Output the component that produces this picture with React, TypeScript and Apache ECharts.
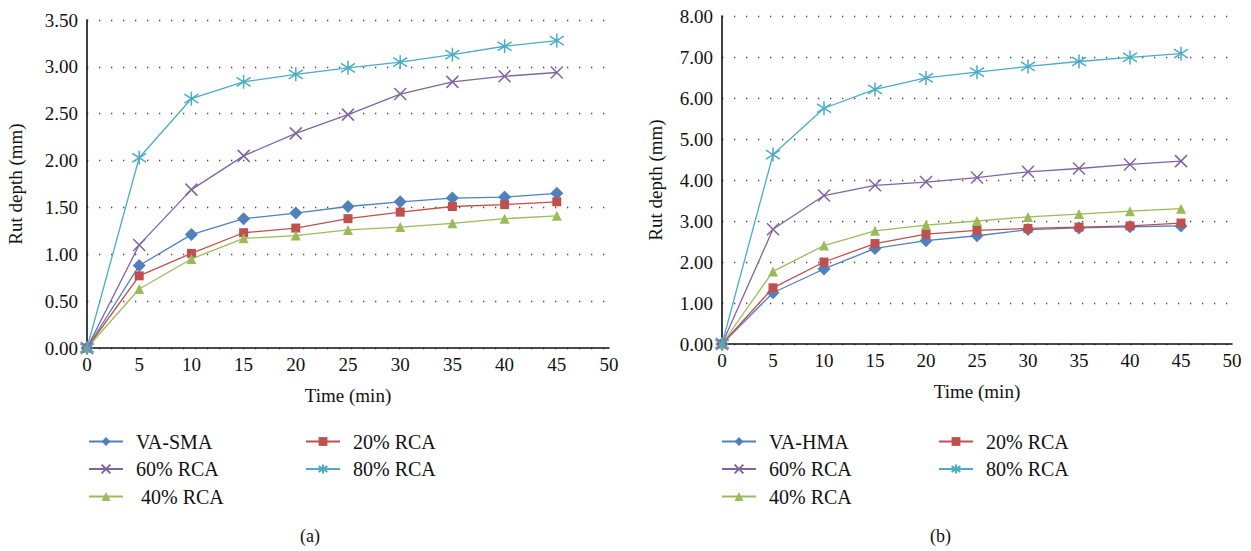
import React, { useEffect, useRef } from "react";
import * as echarts from "echarts";

const times = [0, 5, 10, 15, 20, 25, 30, 35, 40, 45];

// Chart (a)
const leftVA = [0, 0.88, 1.21, 1.38, 1.44, 1.51, 1.56, 1.6, 1.61, 1.65];
const left20 = [0, 0.77, 1.01, 1.23, 1.28, 1.38, 1.45, 1.51, 1.53, 1.56];
const left40 = [0, 0.63, 0.95, 1.17, 1.2, 1.26, 1.29, 1.33, 1.38, 1.41];
const left60 = [0, 1.1, 1.69, 2.05, 2.29, 2.49, 2.71, 2.84, 2.9, 2.94];
const left80 = [0, 2.03, 2.66, 2.84, 2.92, 2.99, 3.05, 3.13, 3.22, 3.28];

// Chart (b)
const rightVA = [0, 1.25, 1.83, 2.33, 2.52, 2.64, 2.79, 2.83, 2.86, 2.88];
const right20 = [0, 1.37, 2.0, 2.45, 2.68, 2.77, 2.82, 2.85, 2.88, 2.95];
const right40 = [0, 1.77, 2.4, 2.76, 2.9, 3.0, 3.1, 3.17, 3.24, 3.3];
const right60 = [0, 2.8, 3.62, 3.87, 3.95, 4.06, 4.2, 4.28, 4.38, 4.46];
const right80 = [0, 4.62, 5.75, 6.21, 6.49, 6.63, 6.77, 6.89, 6.99, 7.08];

const leftNames = ["VA-SMA", "20% RCA", " 40% RCA", "60% RCA", "80% RCA"];
const rightNames = ["VA-HMA", "20% RCA", "40% RCA", "60% RCA", "80% RCA"];
const panelLabels = ["(a)", "(b)"];

const COLORS = ["#4F81BD", "#C0504D", "#9BBB59", "#8064A2", "#4BACC6"];
const SYMBOLS = [
  "diamond",
  "rect",
  "triangle",
  "path://M0,0L10,10M0,10L10,0",
  "path://M5,0L5,10M0.8,1.8L9.2,8.2M9.2,1.8L0.8,8.2",
];
const SIZES = [13, 9, 10, 12, 14];
const FONT = "'Liberation Serif', 'DejaVu Serif', serif";

function pairs(ys: number[]) {
  return times.map((t, i) => [t, ys[i]]);
}

function makeSeries(names: string[], data: number[][], axisIndex: number) {
  return names.map((name, i) => ({
    type: "line",
    name,
    xAxisIndex: axisIndex,
    yAxisIndex: axisIndex,
    data: pairs(data[i]),
    symbol: SYMBOLS[i],
    symbolSize: SIZES[i],
    lineStyle: { color: COLORS[i], width: 1.3 },
    itemStyle: {
      color: i >= 3 ? "transparent" : COLORS[i],
      borderColor: COLORS[i],
      borderWidth: i >= 3 ? 1.5 : 0,
    },
    z: 2 + i,
  }));
}

function xAxis(gridIndex: number) {
  return {
    type: "value",
    gridIndex,
    min: 0,
    max: 50,
    interval: 5,
    name: "Time (min)",
    nameLocation: "middle",
    nameGap: 38,
    nameTextStyle: { fontFamily: FONT, fontSize: 19, color: "#111" },
    axisLine: { show: true, onZero: false, lineStyle: { color: "#111", width: 1.6 } },
    axisTick: { show: false },
    splitLine: { show: false },
    axisLabel: { fontFamily: FONT, fontSize: 19, color: "#111", margin: 7 },
  };
}

function yAxis(gridIndex: number, max: number, interval: number, gap: number) {
  return {
    type: "value",
    gridIndex,
    min: 0,
    max,
    interval,
    name: "Rut depth (mm)",
    nameLocation: "middle",
    nameGap: gap,
    nameRotate: 90,
    nameTextStyle: { fontFamily: FONT, fontSize: 19, color: "#111" },
    axisLine: { show: true, lineStyle: { color: "#111", width: 1.6 } },
    axisTick: { show: false },
    axisLabel: {
      fontFamily: FONT,
      fontSize: 19,
      color: "#111",
      margin: 9,
      formatter: (v: number) => v.toFixed(2),
    },
    splitLine: {
      show: true,
      lineStyle: { color: "#444", width: 1.3, type: [1.3, 10.7] },
    },
  };
}

function legend(names: string[], left: number, top: number) {
  return {
    orient: "vertical",
    left,
    top,
    padding: 0,
    itemWidth: 34,
    itemHeight: 11,
    itemGap: 6.5,
    data: names,
    selectedMode: false,
    textStyle: {
      fontFamily: FONT,
      fontSize: 20,
      color: "#111",
      lineHeight: 21,
      padding: [0, 0, 0, 8],
    },
  };
}

export default function App() {
  const ref = useRef<HTMLDivElement>(null);
  useEffect(() => {
    if (!ref.current) return;
    const chart = echarts.init(ref.current, undefined, { renderer: "svg" });
    const option = {
      animation: false,
      backgroundColor: "#fff",
      grid: [
        { left: 87, top: 20, width: 522, height: 328 },
        { left: 722, top: 16, width: 510, height: 328 },
      ],
      xAxis: [xAxis(0), xAxis(1)],
      yAxis: [yAxis(0, 3.5, 0.5, 62), yAxis(1, 8, 1, 57)],
      legend: [
        legend([leftNames[0], leftNames[3], leftNames[2]], 88, 431),
        legend([leftNames[1], leftNames[4]], 305, 431),
        legend([rightNames[0], rightNames[3], rightNames[2]], 721, 431),
        legend([rightNames[1], rightNames[4]], 938, 431),
      ],
      graphic: [
        {
          type: "text",
          left: 300,
          top: 527,
          style: { text: panelLabels[0], fontFamily: FONT, fontSize: 18, fill: "#111" },
        },
        {
          type: "text",
          left: 930,
          top: 527,
          style: { text: panelLabels[1], fontFamily: FONT, fontSize: 18, fill: "#111" },
        },
      ],
      series: [
        ...makeSeries(leftNames, [leftVA, left20, left40, left60, left80], 0),
        ...makeSeries(rightNames, [rightVA, right20, right40, right60, right80], 1),
      ],
    };
    chart.setOption(option as any);
    return () => chart.dispose();
  }, []);
  return (
    <div
      ref={ref}
      style={{ position: "fixed", left: 0, top: 0, width: 1251, height: 551, background: "#fff" }}
    />
  );
}
